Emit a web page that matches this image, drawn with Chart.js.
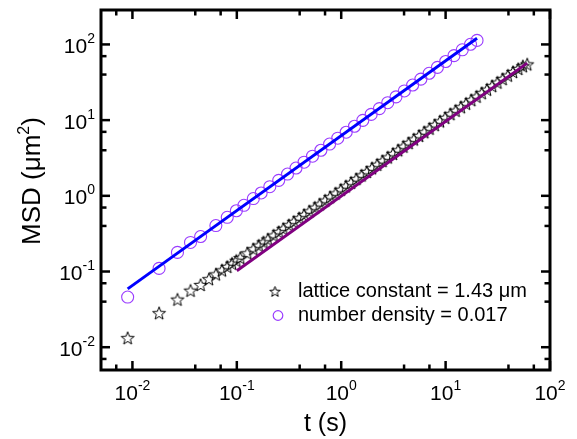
<!DOCTYPE html>
<html><head><meta charset="utf-8">
<script src="https://cdn.jsdelivr.net/npm/chart.js@4/dist/chart.umd.min.js"></script>
<style>html,body{margin:0;padding:0;background:#fff;}#wrap{width:577px;height:439px;}</style>
</head><body>
<div id="wrap"><canvas id="c" width="577" height="439"></canvas></div>
<script>
// ---- data ----
const circleT = [0.009,0.018,0.027,0.036,0.045,0.063,0.081,0.099,0.117,0.144,0.171,0.207,0.252,0.306,0.369,0.441,0.531,0.639,0.774,0.927,1.116,1.341,1.611,1.935,2.322,2.79,3.348,4.023,4.833,5.796,6.957,8.352,10.02,12.03,14.44,17.33,20.0];
const circleMSD = [0.046,0.11,0.179,0.242,0.29,0.405,0.52,0.635,0.75,0.92,1.09,1.32,1.6,1.94,2.33,2.78,3.34,4.0,4.83,5.77,6.92,8.3,9.93,11.9,14.2,17.0,20.3,24.3,29.1,34.8,41.6,49.8,59.5,71.2,85.0,100.5,113];
const starT = [0.009,0.018,0.027,0.036,0.045,0.054,0.063,0.072,0.081,0.090,0.099,0.108,0.126,0.144,0.162,0.180,0.198,0.225,0.252,0.279,0.315,0.351,0.396,0.441,0.495,0.558,0.621,0.702,0.783,0.882,0.990,1.107,1.242,1.395,1.566,1.755,1.971,2.214,2.484,2.79,3.132,3.51,3.942,4.419,4.959,5.571,6.246,7.011,7.866,8.829,9.909,11.12,12.47,13.99,15.70,17.62,19.77,22.18,24.89,27.93,31.33,35.16,39.45,44.26,49.66,54.90,60.50];
const starMSD = [0.0132,0.0282,0.0426,0.0559,0.0664,0.0793,0.0916,0.1035,0.1153,0.127,0.139,0.1507,0.174,0.197,0.220,0.243,0.265,0.299,0.332,0.366,0.409,0.453,0.506,0.560,0.624,0.698,0.770,0.865,0.961,1.075,1.201,1.335,1.488,1.664,1.856,2.066,2.311,2.578,2.874,3.214,3.584,3.999,4.463,4.970,5.555,6.199,6.920,7.718,8.604,9.612,10.72,11.98,13.31,14.80,16.47,18.36,20.42,22.71,25.26,28.15,31.30,34.83,38.73,43.15,47.5,51.5,54.5];
const circleFitT = [0.009, 20];
const circleFitMSD = [0.059, 121];
const starFitT = [0.1, 60.5];
const starFitMSD = [0.1025, 56.6];
const legendLabels = ['lattice constant = 1.43 \u03BCm', 'number density = 0.017'];
const xTickValues = [0.01, 0.1, 1, 10, 100];
const xTickExponents = ['-2', '-1', '0', '1', '2'];
const yTickValues = [0.01, 0.1, 1, 10, 100];
const yTickExponents = ['-2', '-1', '0', '1', '2'];
const minorTickValues = [0.007, 0.04, 0.07, 0.4, 0.7, 4, 7, 40, 70];
const xTitle = 't (s)';
const yTitleMain = 'MSD (\u03BCm';
const yTitleSup = '2';
const yTitleEnd = ')';

// ---- styles ----
const FONT = '"Liberation Sans", Arial, Helvetica, sans-serif';
const CIRCLE_COLOR = '#9A3CFF';

function makeStar(r, lw) {
  const size = Math.ceil(r * 2 + lw * 2 + 2);
  const cv = document.createElement('canvas');
  cv.width = size; cv.height = size;
  const g = cv.getContext('2d');
  const c = size / 2, ri = r * 0.42;
  g.beginPath();
  for (let i = 0; i < 10; i++) {
    const a = -Math.PI / 2 + i * Math.PI / 5;
    const rr = i % 2 === 0 ? r : ri;
    const px = c + rr * Math.cos(a), py = c + 0.5 + rr * Math.sin(a);
    if (i === 0) g.moveTo(px, py); else g.lineTo(px, py);
  }
  g.closePath();
  g.lineWidth = lw; g.strokeStyle = '#000'; g.lineJoin = 'miter';
  g.stroke();
  return cv;
}
const starImg = makeStar(6.8, 1);
const starLegendImg = makeStar(5.5, 1);

const pts = (xs, ys) => xs.map((x, i) => ({x, y: ys[i]}));

const framePlugin = {
  id: 'frame',
  afterDraw(chart) {
    const ctx = chart.ctx;
    const {left, right, top, bottom} = chart.chartArea;
    const xs = chart.scales.x, ys = chart.scales.y;
    ctx.save();
    ctx.strokeStyle = '#000';
    ctx.fillStyle = '#000';
    ctx.lineWidth = 2.5;
    ctx.lineCap = 'butt';
    const tick = (x1, y1, x2, y2) => { ctx.beginPath(); ctx.moveTo(x1, y1); ctx.lineTo(x2, y2); ctx.stroke(); };
    xTickValues.forEach(v => { const p = xs.getPixelForValue(v); tick(p, bottom, p, bottom - 9); tick(p, top, p, top + 9); });
    yTickValues.forEach(v => { const p = ys.getPixelForValue(v); tick(left, p, left + 9, p); tick(right, p, right - 9, p); });
    minorTickValues.forEach(v => {
      const px = xs.getPixelForValue(v);
      if (px > left + 2 && px < right - 2) { tick(px, bottom, px, bottom - 5.5); tick(px, top, px, top + 5.5); }
      const py = ys.getPixelForValue(v);
      if (py > top + 2 && py < bottom - 2) { tick(left, py, left + 5.5, py); tick(right, py, right - 5.5, py); }
    });
    ctx.lineWidth = 3;
    ctx.strokeRect(left, top, right - left, bottom - top);
    ctx.textBaseline = 'alphabetic';
    ctx.textAlign = 'left';
    const mainF = '21px ' + FONT, supF = '14px ' + FONT;
    xTickValues.forEach((v, i) => {
      const p = xs.getPixelForValue(v);
      ctx.font = mainF; const w1 = ctx.measureText('10').width;
      ctx.font = supF; const w2 = ctx.measureText(xTickExponents[i]).width;
      const s = p - (w1 + w2) / 2;
      ctx.font = mainF; ctx.fillText('10', s, 400);
      ctx.font = supF; ctx.fillText(xTickExponents[i], s + w1, 390);
    });
    yTickValues.forEach((v, i) => {
      const p = ys.getPixelForValue(v);
      ctx.font = mainF; const w1 = ctx.measureText('10').width;
      ctx.font = supF; const w2 = ctx.measureText(yTickExponents[i]).width;
      const s = 95 - (w1 + w2);
      ctx.font = mainF; ctx.fillText('10', s, p + 8.5);
      ctx.font = supF; ctx.fillText(yTickExponents[i], s + w1, p - 1.5);
    });
    ctx.font = '25px ' + FONT;
    ctx.textAlign = 'center';
    ctx.fillText(xTitle, (left + right) / 2, 431);
    ctx.textAlign = 'left';
    ctx.save();
    ctx.translate(40, 181);
    ctx.rotate(-Math.PI / 2);
    const tf = '26px ' + FONT, sf = '16px ' + FONT;
    ctx.font = tf; const a = ctx.measureText(yTitleMain).width, c = ctx.measureText(yTitleEnd).width;
    ctx.font = sf; const b = ctx.measureText(yTitleSup).width;
    let s = -(a + b + c) / 2;
    ctx.font = tf; ctx.fillText(yTitleMain, s, 0);
    ctx.font = sf; ctx.fillText(yTitleSup, s + a, -11);
    ctx.font = tf; ctx.fillText(yTitleEnd, s + a + b, 0);
    ctx.restore();
    ctx.font = '20px ' + FONT;
    ctx.drawImage(starLegendImg, 275 - starLegendImg.width / 2, 291.5 - starLegendImg.height / 2);
    ctx.fillText(legendLabels[0], 298, 296.5);
    ctx.beginPath();
    ctx.arc(278, 315.5, 4.8, 0, Math.PI * 2);
    ctx.lineWidth = 1.2; ctx.strokeStyle = CIRCLE_COLOR; ctx.stroke();
    ctx.fillText(legendLabels[1], 298, 320.5);
    ctx.restore();
  }
};

new Chart(document.getElementById('c'), {
  type: 'scatter',
  data: {
    datasets: [
      { label: 'circle fit', data: pts(circleFitT, circleFitMSD), showLine: true, borderColor: '#0000FF', borderWidth: 3, pointRadius: 0, order: 0 },
      { label: 'star fit', data: pts(starFitT, starFitMSD), showLine: true, borderColor: '#800080', borderWidth: 3, pointRadius: 0, order: 0 },
      { label: legendLabels[1], data: pts(circleT, circleMSD), pointStyle: 'circle', pointRadius: 6, borderColor: CIRCLE_COLOR, backgroundColor: 'rgba(0,0,0,0)', borderWidth: 1.1, order: 1 },
      { label: legendLabels[0], data: pts(starT, starMSD), pointStyle: starImg, order: 1 }
    ]
  },
  options: {
    responsive: false,
    animation: false,
    events: [],
    layout: { padding: { left: 101, top: 10, right: 27, bottom: 69 } },
    plugins: { legend: { display: false }, tooltip: { enabled: false } },
    scales: {
      x: { type: 'logarithmic', min: 0.005, max: 100, display: false },
      y: { type: 'logarithmic', min: 0.005, max: 285, display: false }
    }
  },
  plugins: [framePlugin]
});
</script>
</body></html>
